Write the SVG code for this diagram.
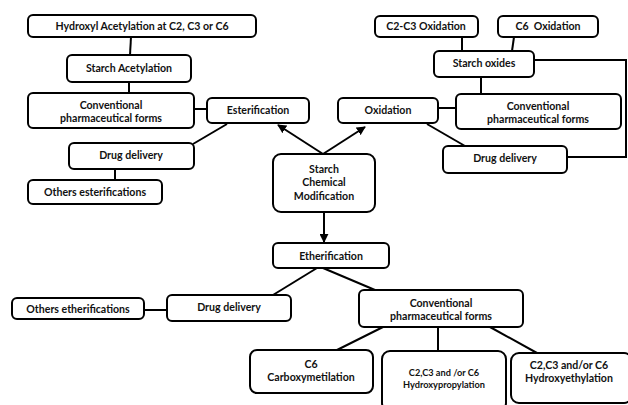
<svg xmlns="http://www.w3.org/2000/svg" width="628" height="405" viewBox="0 0 628 405">
<style>
.box{fill:#fff;stroke:#000;stroke-width:2}
.t{font-family:Lato,"Liberation Sans",sans-serif;font-weight:bold;font-size:10.6px;fill:#111;text-anchor:middle;dominant-baseline:central}
.s{font-size:9.2px}
.c{stroke:#000;stroke-width:2;fill:none}
</style>
<defs>
<marker id="ah" viewBox="0 0 10 10" refX="9" refY="5" markerWidth="4.5" markerHeight="4.5" orient="auto" markerUnits="strokeWidth">
<path d="M0,0 L10,5 L0,10 Z" fill="#000"/>
</marker>
</defs>
<rect width="628" height="405" fill="#fff"/>
<g id="connectors">
<line class="c" x1="131" y1="37" x2="130" y2="55"/>
<line class="c" x1="129" y1="82" x2="129" y2="93"/>
<line class="c" x1="194" y1="109" x2="207" y2="109"/>
<line class="c" x1="193" y1="144" x2="227" y2="124"/>
<line class="c" x1="115" y1="169" x2="115" y2="180"/>
<line class="c" x1="323" y1="154" x2="278" y2="125" marker-end="url(#ah)"/>
<line class="c" x1="323" y1="154" x2="365" y2="127" marker-end="url(#ah)"/>
<line class="c" x1="324" y1="212" x2="324" y2="242" marker-end="url(#ah)"/>
<line class="c" x1="462" y1="37" x2="462" y2="51"/>
<line class="c" x1="514" y1="37" x2="512" y2="51"/>
<polyline class="c" points="534,60 626,60 626,157 567,157"/>
<line class="c" x1="481" y1="77" x2="481" y2="94"/>
<line class="c" x1="438" y1="108" x2="456" y2="108"/>
<line class="c" x1="427" y1="124" x2="465" y2="146"/>
<line class="c" x1="317" y1="268" x2="273" y2="295"/>
<line class="c" x1="323" y1="268" x2="375" y2="290"/>
<line class="c" x1="144" y1="310" x2="167" y2="310"/>
<line class="c" x1="383" y1="327" x2="335" y2="351"/>
<line class="c" x1="438" y1="327" x2="438" y2="351"/>
<line class="c" x1="490" y1="327" x2="537" y2="353"/>
</g>
<g id="hydroxyl-acetylation"><rect class="box" x="28" y="15" width="228" height="22" rx="5"/><text class="t" x="142" y="26">Hydroxyl Acetylation at C2, C3 or C6</text></g>
<g id="starch-acetylation"><rect class="box" x="67" y="55" width="124" height="27" rx="5"/><text class="t" x="129" y="68">Starch Acetylation</text></g>
<g id="conv-left"><rect class="box" x="28" y="93" width="166" height="35" rx="5"/><text class="t" x="111" y="105">Conventional</text><text class="t" x="111" y="118">pharmaceutical forms</text></g>
<g id="esterification"><rect class="box" x="207" y="98" width="102" height="25" rx="5"/><text class="t" x="258" y="110">Esterification</text></g>
<g id="drug-left"><rect class="box" x="69" y="143" width="125" height="26" rx="5"/><text class="t" x="131" y="155">Drug delivery</text></g>
<g id="others-ester"><rect class="box" x="28" y="180" width="134" height="24" rx="5"/><text class="t" x="95" y="192">Others esterifications</text></g>
<g id="c2c3-oxidation"><rect class="box" x="375" y="16" width="103" height="21" rx="5"/><text class="t" x="426" y="26">C2-C3 Oxidation</text></g>
<g id="c6-oxidation"><rect class="box" x="498" y="16" width="100" height="21" rx="5"/><text class="t" x="548" y="26" xml:space="preserve">C6  Oxidation</text></g>
<g id="starch-oxides"><rect class="box" x="434" y="51" width="100" height="26" rx="5"/><text class="t" x="484" y="63">Starch oxides</text></g>
<g id="oxidation"><rect class="box" x="338" y="98" width="100" height="25" rx="5"/><text class="t" x="388" y="110">Oxidation</text></g>
<g id="conv-right"><rect class="box" x="456" y="94" width="165" height="35" rx="5"/><text class="t" x="538" y="106">Conventional</text><text class="t" x="538" y="119">pharmaceutical forms</text></g>
<g id="drug-right"><rect class="box" x="443" y="146" width="124" height="27" rx="5"/><text class="t" x="505" y="158">Drug delivery</text></g>
<g id="starch-chem-mod"><rect class="box" x="273" y="154" width="102" height="58" rx="8"/><text class="t" x="324" y="169">Starch</text><text class="t" x="324" y="182">Chemical</text><text class="t" x="324" y="196">Modification</text></g>
<g id="etherification"><rect class="box" x="273" y="243" width="116" height="25" rx="5"/><text class="t" x="331" y="256">Etherification</text></g>
<g id="others-ether"><rect class="box" x="12" y="298" width="132" height="21" rx="5"/><text class="t" x="78" y="309">Others etherifications</text></g>
<g id="drug-bottom"><rect class="box" x="167" y="295" width="124" height="26" rx="5"/><text class="t" x="229" y="307">Drug delivery</text></g>
<g id="conv-bottom"><rect class="box" x="359" y="290" width="164" height="37" rx="5"/><text class="t" x="441" y="303">Conventional</text><text class="t" x="441" y="316">pharmaceutical forms</text></g>
<g id="carboxymetilation"><rect class="box" x="250" y="350" width="123" height="43" rx="7"/><text class="t" x="311" y="364">C6</text><text class="t" x="311" y="377">Carboxymetilation</text></g>
<g id="hydroxypropylation"><rect class="box" x="382" y="351" width="124" height="60" rx="8"/><text class="t s" x="444" y="372">C2,C3 and /or C6</text><text class="t s" x="444" y="384">Hydroxypropylation</text></g>
<g id="hydroxyethylation"><rect class="box" x="511" y="353" width="121" height="50" rx="8"/><text class="t" x="569" y="365">C2,C3 and/or C6</text><text class="t" x="569" y="378">Hydroxyethylation</text></g>
</svg>
